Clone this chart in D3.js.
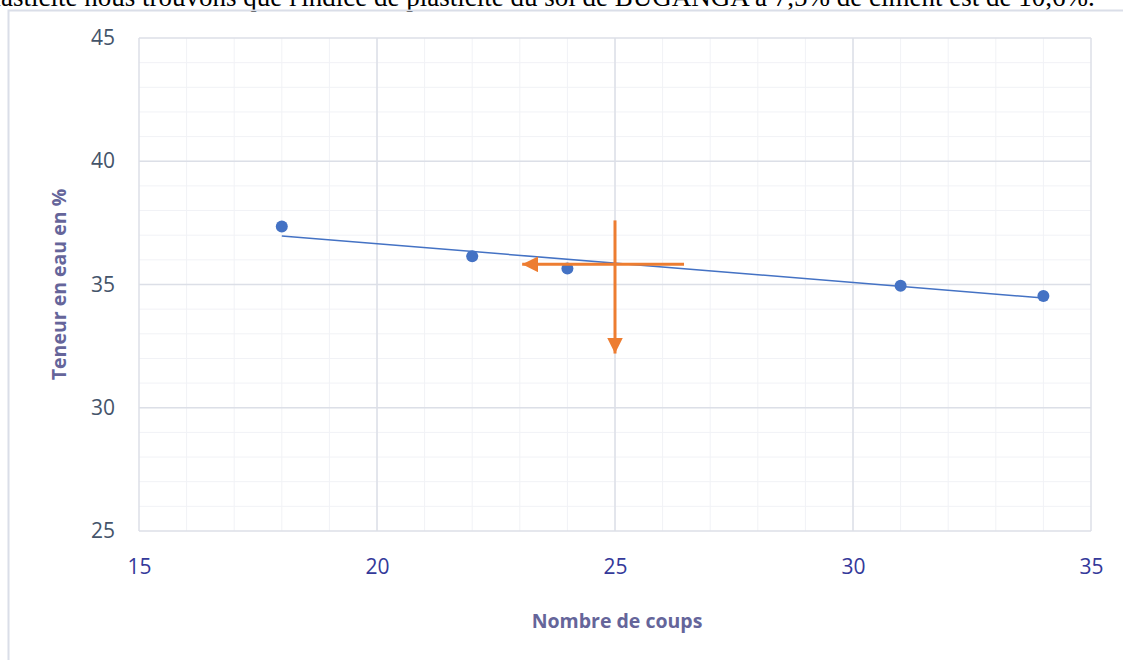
<!DOCTYPE html>
<html>
<head>
<meta charset="utf-8">
<script src="https://cdn.jsdelivr.net/npm/d3@7"></script>
<style>
  body { margin: 0; background: #fff; overflow: hidden; }
  text { font-family: "Open Sans", "Noto Sans", sans-serif; }
</style>
</head>
<body>
<script>
// Data
var coups = [18, 22, 24, 31, 34];
var teneur = [37.35, 36.15, 35.65, 34.95, 34.53];
var trendX = [18, 34];
var trendY = [36.97, 34.45];
// reading arrows (orange)
var arrowH = [[26.45, 35.82], [23.05, 35.82]];
var arrowV = [[25, 37.6], [25, 32.2]];
var xTicks = [15, 20, 25, 30, 35];
var yTicks = [25, 30, 35, 40, 45];

var W = 1123, H = 660;
var margin = { top: 38, right: 32, bottom: 129, left: 139 };
var width = W - margin.left - margin.right;
var height = H - margin.top - margin.bottom;

var svg = d3.select("body").append("svg")
  .attr("width", W)
  .attr("height", H);

// paragraph text cut at the top of the page
svg.append("text")
  .attr("x", -20)
  .attr("y", 6)
  .style("font-family", "'Liberation Serif', 'DejaVu Serif', serif")
  .style("font-size", "27px")
  .attr("fill", "#000")
  .text("plasticité nous trouvons que l'indice de plasticité du sol de BUGANGA à 7,5% de ciment est de 10,6%.");

// chart frame
svg.append("path")
  .attr("d", "M8.5," + H + "V10.5H" + W)
  .attr("fill", "none")
  .attr("stroke", "#DADEE8")
  .attr("stroke-width", 2);

var g = svg.append("g")
  .attr("transform", "translate(" + margin.left + "," + margin.top + ")");

var x = d3.scaleLinear().domain([15, 35]).range([0, width]);
var y = d3.scaleLinear().domain([25, 45]).range([height, 0]);

// minor grid
g.append("g")
  .selectAll("line")
  .data(d3.range(16, 35))
  .enter().append("line")
  .attr("x1", d => x(d)).attr("x2", d => x(d))
  .attr("y1", 0).attr("y2", height)
  .attr("stroke", "#F1F2F6").attr("stroke-width", 1);
g.append("g")
  .selectAll("line")
  .data(d3.range(26, 45))
  .enter().append("line")
  .attr("y1", d => y(d)).attr("y2", d => y(d))
  .attr("x1", 0).attr("x2", width)
  .attr("stroke", "#F1F2F6").attr("stroke-width", 1);

// major grid
g.append("g")
  .selectAll("line")
  .data(xTicks)
  .enter().append("line")
  .attr("x1", d => x(d)).attr("x2", d => x(d))
  .attr("y1", 0).attr("y2", height)
  .attr("stroke", "#DCDFE7").attr("stroke-width", 1.5);
g.append("g")
  .selectAll("line")
  .data(yTicks)
  .enter().append("line")
  .attr("y1", d => y(d)).attr("y2", d => y(d))
  .attr("x1", 0).attr("x2", width)
  .attr("stroke", "#DCDFE7").attr("stroke-width", 1.5);

// axes (labels only)
var xAxis = d3.axisBottom(x).tickValues(xTicks).tickSize(0).tickPadding(28);
var yAxis = d3.axisLeft(y).tickValues(yTicks).tickSize(0).tickPadding(24);

g.append("g")
  .attr("transform", "translate(0," + height + ")")
  .call(xAxis)
  .call(s => s.select(".domain").remove())
  .selectAll("text")
  .style("font-size", "21px")
  .attr("fill", "#34399A");

g.append("g")
  .call(yAxis)
  .call(s => s.select(".domain").remove())
  .selectAll("text")
  .style("font-size", "21px")
  .attr("fill", "#44546A");

// axis titles
svg.append("text")
  .attr("x", margin.left + x(25) + 2)
  .attr("y", 628)
  .attr("text-anchor", "middle")
  .style("font-size", "19.5px")
  .style("font-weight", "bold")
  .attr("fill", "#65659A")
  .text("Nombre de coups");

svg.append("text")
  .attr("transform", "translate(66," + (margin.top + y(35)) + ") rotate(-90)")
  .attr("text-anchor", "middle")
  .style("font-size", "19.5px")
  .style("font-weight", "bold")
  .attr("fill", "#65659A")
  .text("Teneur en eau en %");

// trend line
var line = d3.line().x(d => x(d[0])).y(d => y(d[1]));
g.append("path")
  .datum(d3.zip(trendX, trendY))
  .attr("d", line)
  .attr("fill", "none")
  .attr("stroke", "#4472C4")
  .attr("stroke-width", 1.5);

// points
g.selectAll(".pt")
  .data(d3.zip(coups, teneur))
  .enter().append("circle")
  .attr("class", "pt")
  .attr("cx", d => x(d[0]))
  .attr("cy", d => y(d[1]))
  .attr("r", 6)
  .attr("fill", "#4472C4");

// orange arrows
var defs = svg.append("defs");
defs.append("marker")
  .attr("id", "arr")
  .attr("viewBox", "0 0 10 10")
  .attr("refX", 10).attr("refY", 5)
  .attr("markerWidth", 5.3).attr("markerHeight", 5.3)
  .attr("markerUnits", "strokeWidth")
  .attr("orient", "auto")
  .append("path")
  .attr("d", "M0,0L10,5L0,10Z")
  .attr("fill", "#ED7D31");

[arrowH, arrowV].forEach(function(a) {
  g.append("path")
    .datum(a)
    .attr("d", line)
    .attr("fill", "none")
    .attr("stroke", "#ED7D31")
    .attr("stroke-width", 3)
    .attr("marker-end", "url(#arr)");
});
</script>
</body>
</html>
